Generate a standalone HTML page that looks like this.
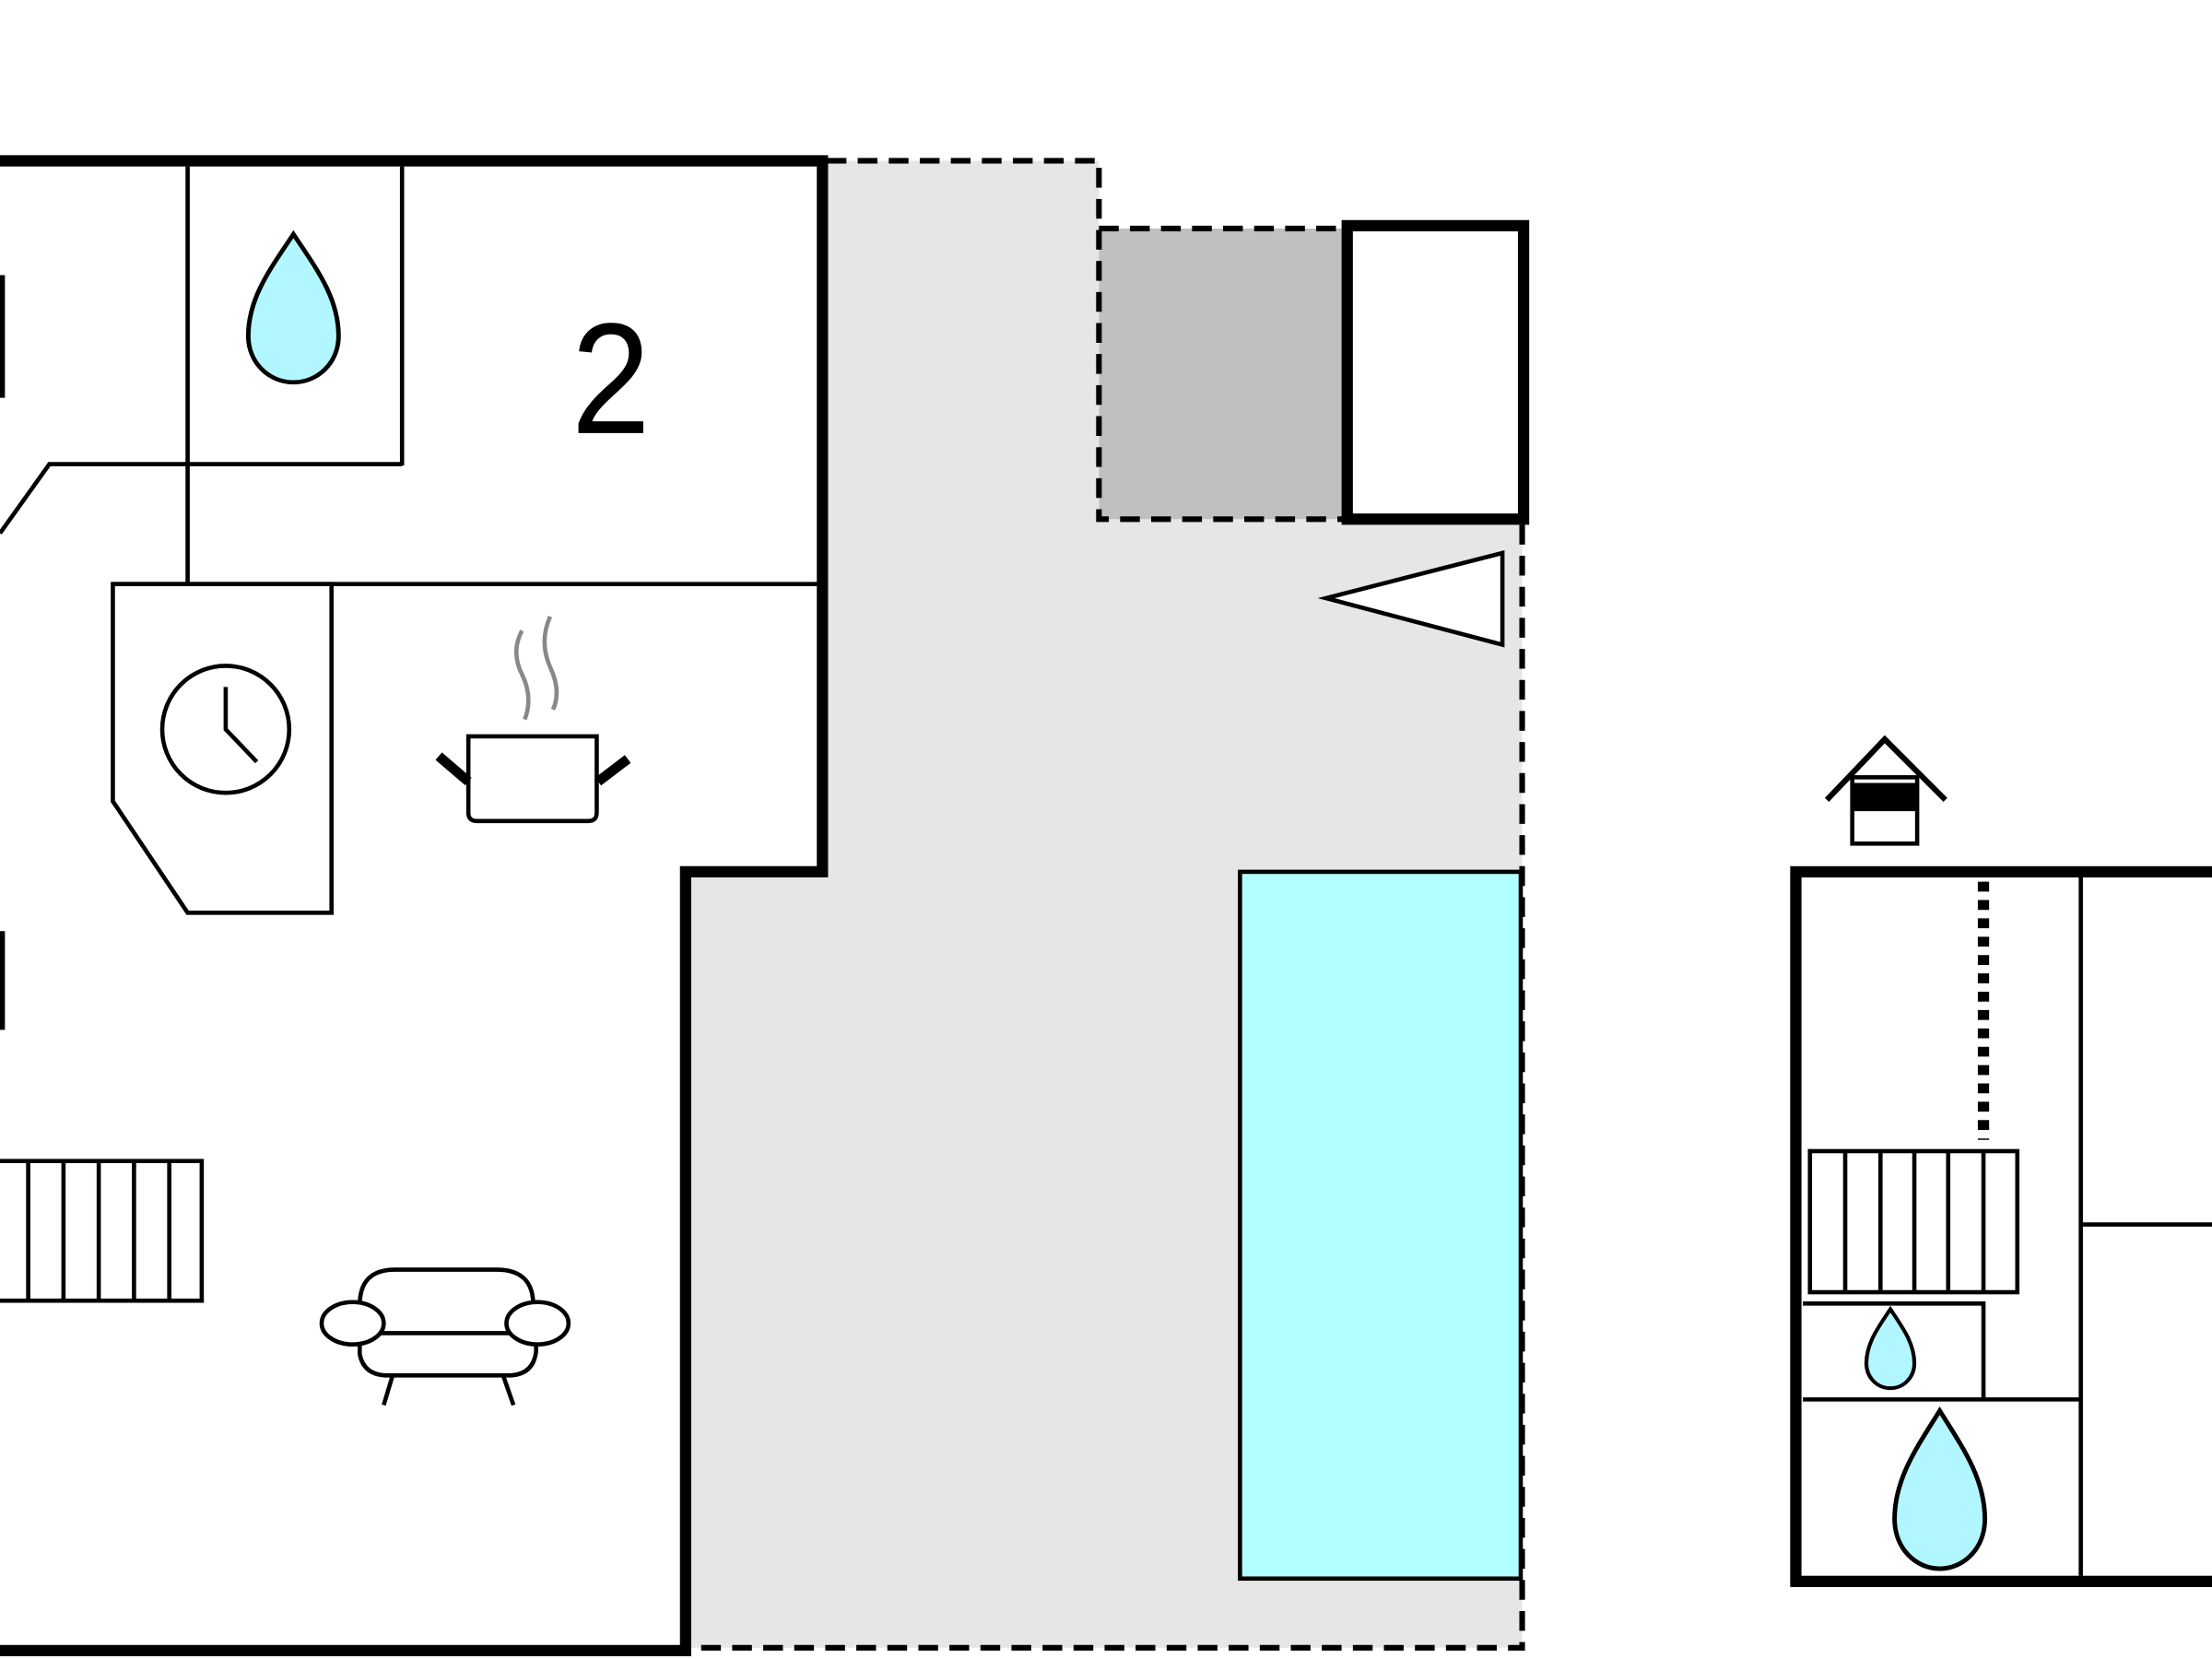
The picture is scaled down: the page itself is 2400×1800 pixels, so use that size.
<!DOCTYPE html>
<html><head><meta charset="utf-8"><style>html,body{margin:0;padding:0;background:#fff;}svg{display:block}</style></head>
<body>
<svg width="2400" height="1800" viewBox="0 0 1568 1176" preserveAspectRatio="none" xmlns="http://www.w3.org/2000/svg">
<defs>
<path id="drop" d="M0,-1 C0.25,-0.6 0.5,-0.25 0.5,0.2 C0.5,0.52 0.27,0.75 0,0.75 C-0.27,0.75 -0.5,0.52 -0.5,0.2 C-0.5,-0.25 -0.25,-0.6 0,-1 Z"/>
</defs>
<rect width="1568" height="1176" fill="#fff"/>
<polygon points="586,114 779,114 779,368 1079,368 1079,1168 490,1168 490,622 586,622" fill="#e6e6e6"/>
<rect x="779" y="162" width="176" height="206" fill="#c0c0c0"/>
<g fill="none" stroke="#000" stroke-width="4" stroke-dasharray="14,8">
<polyline points="586,114 779,114 779,368 955,368"/>
<line x1="779" y1="162" x2="955" y2="162"/>
<polyline points="1079,372 1079,1168 490,1168"/>
</g>
<rect x="955" y="160" width="125" height="208" fill="#fff" stroke="#000" stroke-width="8"/>
<polygon points="940,424 1065,392 1065,457" fill="#fff" stroke="#000" stroke-width="3"/>
<rect x="879" y="618" width="199" height="501" fill="#b2ffff" stroke="#000" stroke-width="3"/>
<polygon points="0,114 583,114 583,618 486,618 486,1170 0,1170" fill="#fff"/>
<polyline points="0,114 583,114 583,618 486,618 486,1170 0,1170" fill="none" stroke="#000" stroke-width="8"/>
<g fill="none" stroke="#000" stroke-width="3">
<line x1="133" y1="118" x2="133" y2="414"/>
<line x1="285" y1="118" x2="285" y2="330"/>
<polyline points="0,378 35,329 285,329"/>
<line x1="80" y1="414" x2="580" y2="414"/>
<polygon points="80,414 235,414 235,647 133,647 80,568" fill="#fff"/>
<circle cx="160" cy="517" r="45"/>
<polyline points="160,487 160,517 182,540"/>
<rect x="-5" y="823" width="148" height="99"/>
<line x1="20" y1="823" x2="20" y2="922"/><line x1="45" y1="823" x2="45" y2="922"/><line x1="70" y1="823" x2="70" y2="922"/><line x1="95" y1="823" x2="95" y2="922"/><line x1="120" y1="823" x2="120" y2="922"/>
<path d="M332,522 H423 V576 Q423,582 417,582 H338 Q332,582 332,576 Z"/>
<path d="M255,925 Q255,900 280,900 H352 Q378,900 378,925"/>
<path d="M255,950 V960 Q258,975 275,975 H360 Q378,975 380,958 V950"/>
<line x1="270" y1="945" x2="362" y2="945"/>
<ellipse cx="250" cy="938" rx="22" ry="15" fill="#fff"/>
<ellipse cx="381" cy="938" rx="22" ry="15" fill="#fff"/>
<line x1="278" y1="976" x2="272" y2="996"/><line x1="357" y1="976" x2="364" y2="996"/>
</g>
<g stroke="#000" stroke-width="7"><line x1="0" y1="195" x2="0" y2="282"/><line x1="0" y1="660" x2="0" y2="730"/>
<line x1="311" y1="536" x2="332" y2="554"/><line x1="445" y1="538" x2="424" y2="554"/></g>
<g fill="none" stroke="#888" stroke-width="3">
<path d="M370,447 Q362,462 370,478 Q378,494 372,510"/>
<path d="M390,437 Q382,455 390,473 Q398,490 392,503"/>
</g>
<use href="#drop" transform="translate(208,226) scale(64,60)" fill="#b2f7ff" stroke="#000" stroke-width="0.05"/>
<text x="433" y="307" font-family="Liberation Sans, sans-serif" font-size="112" text-anchor="middle" fill="#000" transform="translate(433,0) scale(0.9,1) translate(-433,0)">2</text>
<rect x="1273" y="618" width="300" height="503" fill="#fff" stroke="#000" stroke-width="8"/>
<g fill="none" stroke="#000" stroke-width="3">
<line x1="1475" y1="620" x2="1475" y2="1117"/>
<line x1="1475" y1="868" x2="1568" y2="868"/>
<rect x="1283" y="816" width="147" height="100"/>
<line x1="1308" y1="816" x2="1308" y2="916"/><line x1="1333" y1="816" x2="1333" y2="916"/><line x1="1357" y1="816" x2="1357" y2="916"/><line x1="1381" y1="816" x2="1381" y2="916"/><line x1="1406" y1="816" x2="1406" y2="916"/>
<polyline points="1278,924 1406,924 1406,992"/>
<line x1="1278" y1="992" x2="1475" y2="992"/>
</g>
<line x1="1406" y1="625" x2="1406" y2="808" stroke="#000" stroke-width="8" stroke-dasharray="7,6"/>
<use href="#drop" transform="translate(1340,960) scale(34,32)" fill="#b2f7ff" stroke="#000" stroke-width="0.08"/>
<use href="#drop" transform="translate(1375,1064) scale(64,64)" fill="#b2f7ff" stroke="#000" stroke-width="0.05"/>
<polyline points="1295,567 1336,524 1379,567" fill="none" stroke="#000" stroke-width="4"/>
<rect x="1313" y="551" width="46" height="47" fill="#fff" stroke="#000" stroke-width="3"/>
<rect x="1313" y="555" width="46" height="20" fill="#000"/>
</svg>
</body></html>
